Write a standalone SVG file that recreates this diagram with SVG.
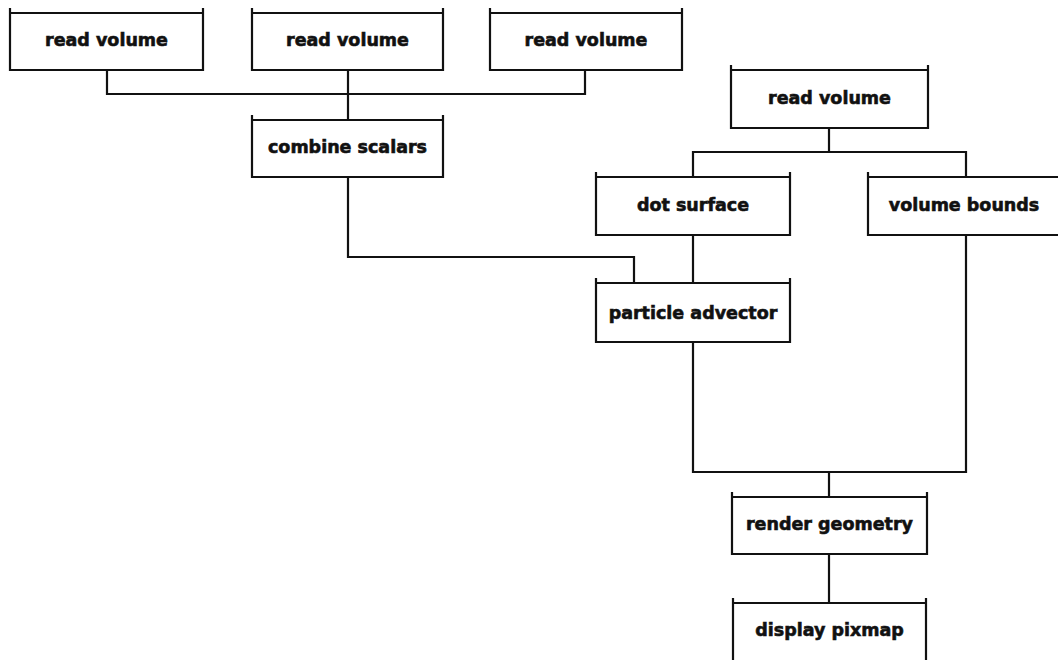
<svg xmlns="http://www.w3.org/2000/svg" width="1058" height="660" viewBox="0 0 1058 660">
<style>
.bx{fill:none;stroke:#111;stroke-width:2.2;stroke-linecap:square}
.ln{fill:none;stroke:#111;stroke-width:2.2}
.t{font-family:"DejaVu Sans","Liberation Sans",sans-serif;font-weight:bold;font-size:17.5px;fill:#111;stroke:#111;stroke-width:0.6;text-anchor:middle}
</style>
<rect width="1058" height="660" fill="#fff"/>
<g id="connectors">
<path class="ln" d="M107,70 V94 H585 V70"/>
<path class="ln" d="M348,70 V120"/>
<path class="ln" d="M348,177 V257 H634 V283"/>
<path class="ln" d="M829,128 V152"/>
<path class="ln" d="M693,177 V152 H966 V177"/>
<path class="ln" d="M693,235 V283"/>
<path class="ln" d="M693,342 V472 H966 V235"/>
<path class="ln" d="M829,472 V497"/>
<path class="ln" d="M829,554 V603"/>
</g>
<g id="n1"><path class="bx" d="M10,9 V70 M203,9 V70 M10,13 H203 M10,70 H203"/><text class="t" x="106.5" y="46">read volume</text></g>
<g id="n2"><path class="bx" d="M252,9 V70 M443,9 V70 M252,13 H443 M252,70 H443"/><text class="t" x="347.5" y="46">read volume</text></g>
<g id="n3"><path class="bx" d="M490,9 V70 M682,9 V70 M490,13 H682 M490,70 H682"/><text class="t" x="586" y="46">read volume</text></g>
<g id="n4"><path class="bx" d="M252,116 V177 M443,116 V177 M252,120 H443 M252,177 H443"/><text class="t" x="347.5" y="153">combine scalars</text></g>
<g id="n5"><path class="bx" d="M731,66 V128 M928,66 V128 M731,70 H928 M731,128 H928"/><text class="t" x="829.5" y="104">read volume</text></g>
<g id="n6"><path class="bx" d="M596,173 V235 M790,173 V235 M596,177 H790 M596,235 H790"/><text class="t" x="693" y="211">dot surface</text></g>
<g id="n7"><path class="bx" d="M868,173 V235 M868,177 H1058 M868,235 H1058"/><text class="t" x="964" y="211">volume bounds</text></g>
<g id="n8"><path class="bx" d="M596,279 V342 M790,279 V342 M596,283 H790 M596,342 H790"/><text class="t" x="693" y="319">particle advector</text></g>
<g id="n9"><path class="bx" d="M732,493 V554 M927,493 V554 M732,497 H927 M732,554 H927"/><text class="t" x="829.5" y="530">render geometry</text></g>
<g id="n10"><path class="bx" d="M733,599 V660 M926,599 V660 M733,603 H926"/><text class="t" x="829.5" y="636">display pixmap</text></g>
</svg>
